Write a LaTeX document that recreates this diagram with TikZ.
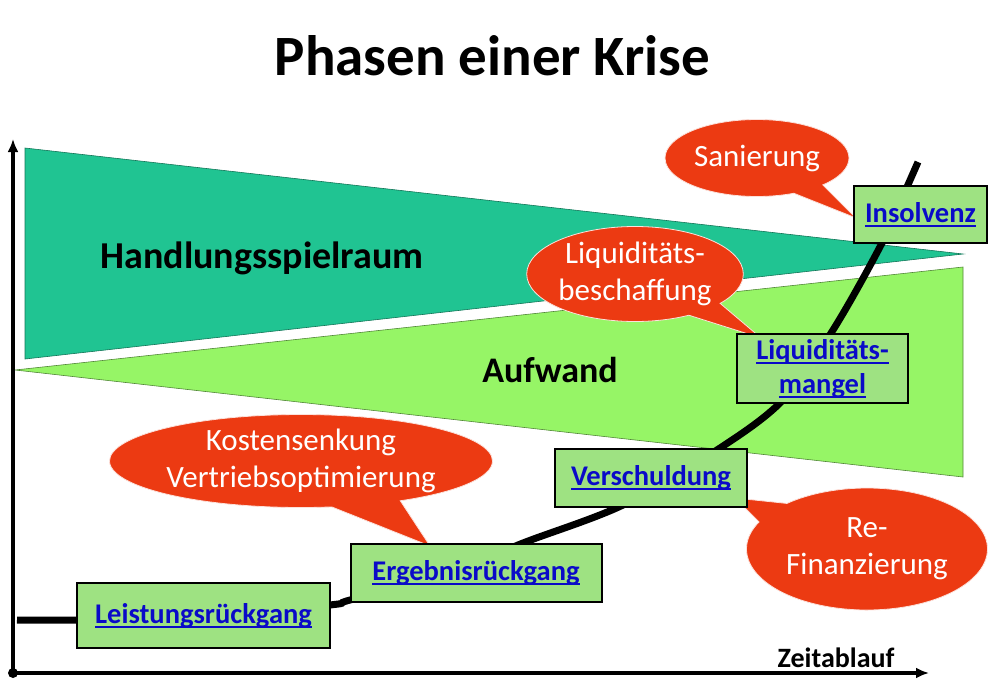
\documentclass[tikz,border=0pt]{standalone}
\usepackage{fontspec}
\setmainfont{Carlito}
\usetikzlibrary{shapes.callouts,arrows.meta}
\definecolor{dgreen}{RGB}{32,196,146}
\definecolor{lgreen}{RGB}{150,245,102}
\definecolor{boxgreen}{RGB}{158,226,130}
\definecolor{cred}{RGB}{236,58,18}
\definecolor{lnkblue}{RGB}{10,10,200}
\newcommand\lnk[1]{\setbox0\hbox{#1}\rlap{\rule[-0.16em]{\wd0}{0.07em}}\box0}
\tikzset{
  phasebox/.style={draw=black, line width=2pt, fill=boxgreen, text=lnkblue,
    font=\bfseries\fontsize{28.5}{34}\selectfont, align=center, inner sep=0pt},
  bubble/.style={ellipse callout, fill=cred, text=white, draw=white!85!cred, line width=0.8pt,
    font=\fontsize{31}{37}\selectfont, align=center, inner sep=0pt, callout pointer arc=22},
  biglabel/.style={font=\bfseries\fontsize{37}{40}\selectfont, anchor=base},
  axis/.style={line width=3.2pt, -{Latex[length=13pt,width=11pt]}}
}
\begin{document}
\begin{tikzpicture}[x=1pt,y=-1pt]
\useasboundingbox (0,0) rectangle (990,683);
% title
\node[font=\bfseries\fontsize{57}{62}\selectfont, anchor=base] (title) at (492.5,75) {Phasen einer Krise};
% areas
\fill[dgreen, draw=dgreen!60!black, line width=0.6pt] (25,148) -- (963,254) -- (25,359) -- cycle;
\fill[lgreen, draw=lgreen!55!black, line width=0.6pt] (15,370) -- (963,267) -- (963,477) -- cycle;
\node[biglabel, font=\bfseries\fontsize{38}{40}\selectfont] (hs) at (262,268) {Handlungsspielraum};
\node[biglabel, font=\bfseries\fontsize{36}{40}\selectfont] (aw) at (550,382) {Aufwand};
% axes
\coordinate (o) at (13,673);
\coordinate (ytip) at (13,139);
\coordinate (xtip) at (929,673);
\draw[axis] (o) -- (ytip);
\draw[axis] (o) -- (xtip);
\fill (o) circle (5pt);
\node[font=\bfseries\fontsize{28}{30}\selectfont, anchor=base] (zeit) at (836,667) {Zeitablauf};
% crisis curve
\draw[line width=7pt] plot[smooth, tension=0.55] coordinates {(17,620) (77,620) (200,618) (330,605) (350,600) (450,573) (523,543) (623,505) (717,450) (783,400) (833,330) (882,243) (907,187) (918,162)};
% callouts
\node[bubble, minimum width=184pt, minimum height=77pt,
  callout absolute pointer={(856,218)}] (san) at (757,158) {Sanierung};
\node[bubble, minimum width=215pt, minimum height=95pt,
  callout absolute pointer={(761,338)}] (lb) at (635,274) {Liquiditäts-\\beschaffung};
\node[bubble, minimum width=383pt, minimum height=93pt,
  callout absolute pointer={(430,546)}] (ks) at (301,461) {Kostensenkung\\Vertriebsoptimierung};
\node[bubble, minimum width=241pt, minimum height=122pt,
  callout absolute pointer={(735,498)}] (rf) at (867,549) {Re-\\Finanzierung};
% phase boxes
\node[phasebox, minimum width=253pt, minimum height=65pt] (lr) at (203.5,615.5) {\lnk{Leistungsrückgang}};
\node[phasebox, minimum width=251pt, minimum height=58pt] (er) at (476,573) {\lnk{Ergebnisrückgang}};
\node[phasebox, minimum width=192pt, minimum height=58pt] (vs) at (651,478) {\lnk{Verschuldung}};
\node[phasebox, minimum width=171pt, minimum height=69pt] (lm) at (822.5,368.5) {\lnk{Liquiditäts-}\\\lnk{mangel}};
\node[phasebox, minimum width=133pt, minimum height=57pt] (is) at (920.5,214.5) {\lnk{Insolvenz}};
\end{tikzpicture}
\end{document}
